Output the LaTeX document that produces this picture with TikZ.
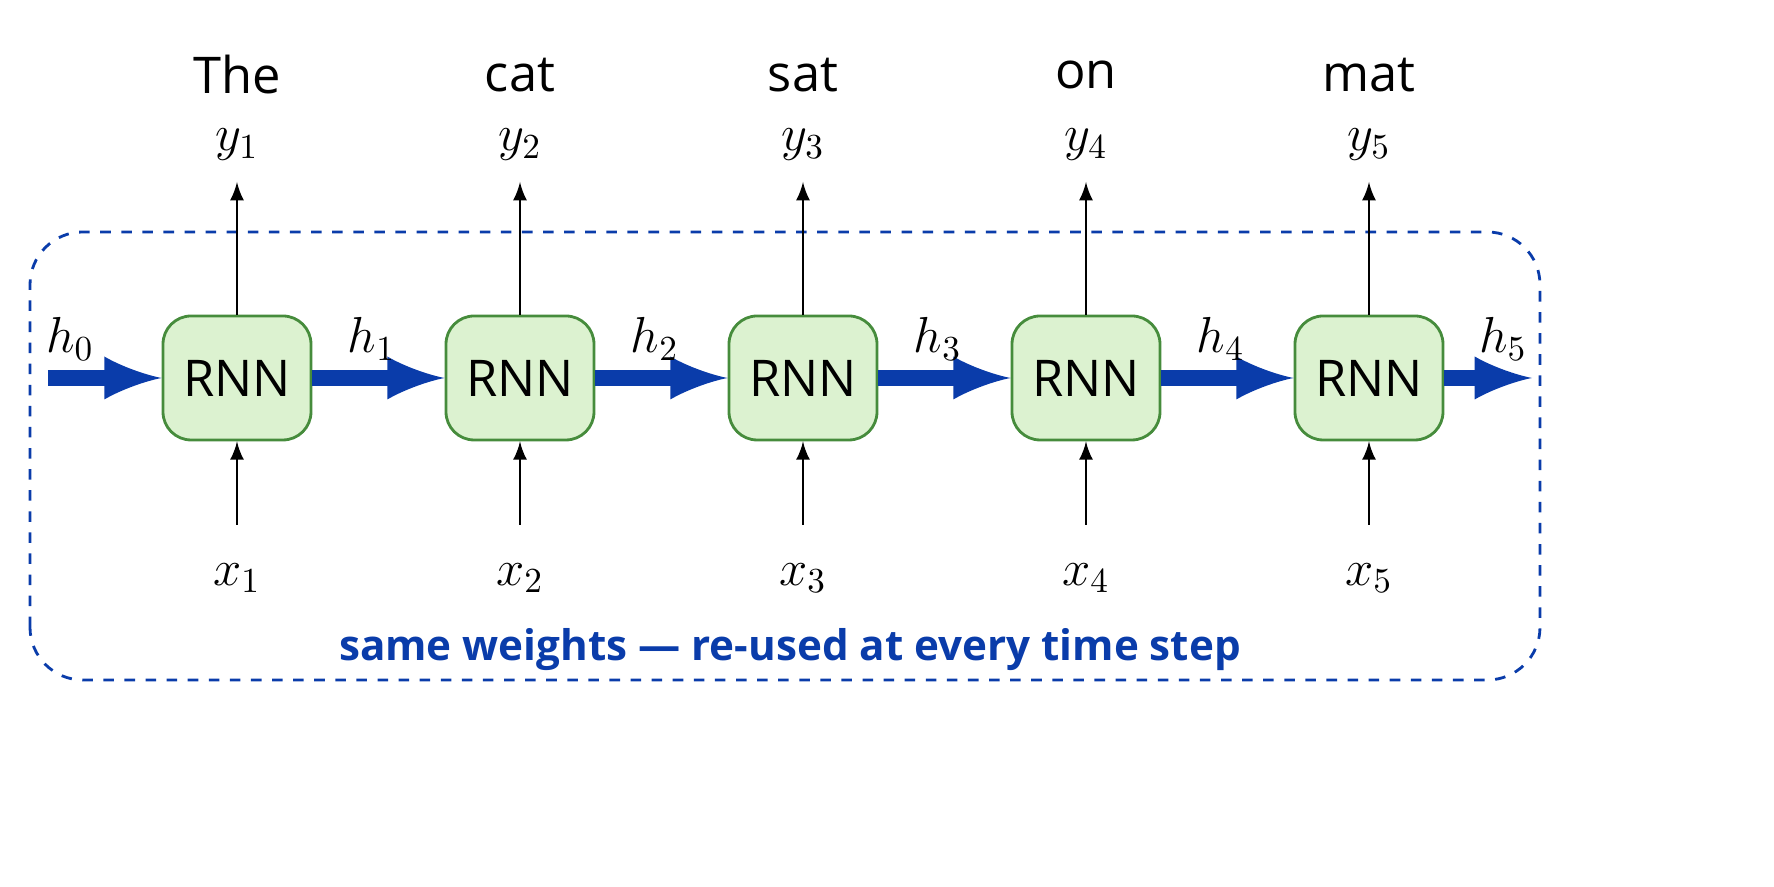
\documentclass[tikz,border=0pt]{standalone}
\usepackage{fontspec}
\setsansfont{Open Sans}
\usetikzlibrary{positioning,calc}
\definecolor{hblue}{RGB}{10,60,170}
\definecolor{cellfill}{RGB}{220,242,208}
\definecolor{celldraw}{RGB}{70,140,60}

\begin{document}
\begin{tikzpicture}[
        cell/.style={rectangle, rounded corners=8pt, draw=celldraw, fill=cellfill, thick, minimum width=1.48cm, minimum height=1.24cm, font=\sffamily\Large},
        word/.style={font=\sffamily\Large},
        lab/.style={font=\Large},
        hid/.style={->, >=latex, line width=4.5pt, hblue},
        io/.style={->, >=latex, thick, black}
      ]
        \useasboundingbox (0,0) rectangle (17.74, 8.87);
        \draw[hblue, dashed, thick, rounded corners=15pt] (0.30, 2.07) rectangle (15.40, 6.55);

        \coordinate (start) at (0.48, 5.09);
        \coordinate (end) at (15.32, 5.09);
        \node[lab] (h0) at (0.70, 5.48) {$h_0$};
        \node[lab] (h5) at (15.03, 5.48) {$h_5$};

        \foreach \i/\x/\w in {1/2.37/The, 2/5.20/cat, 3/8.03/sat, 4/10.86/on, 5/13.69/mat} {
          \node[cell] (rnn\i) at (\x, 5.09) {RNN};
          \node[lab] (y\i) at (\x, 7.42) {$y_\i$};
          \node[word] (w\i) at (\x, 8.12) {\w};
          \node[lab] (x\i) at (\x, 3.09) {$x_\i$};
          \coordinate (top\i) at (\x, 7.05);
          \coordinate (bot\i) at (\x, 3.62);
          \draw[io] (rnn\i.north) -- (top\i);
          \draw[io] (bot\i) -- (rnn\i.south);
        }

        \draw[hid] (start) -- (rnn1.west);
        \foreach \i/\j in {1/2, 2/3, 3/4, 4/5} {
          \draw[hid] (rnn\i.east) -- (rnn\j.west);
          \node[lab] (h\i) at ($(rnn\i.east)!0.45!(rnn\j.west)+(0,0.39)$) {$h_\i$};
        }
        \draw[hid] (rnn5.east) -- (end);

        \node[font=\sffamily\large\bfseries, text=hblue] (caption) at (7.90, 2.37) {same weights --- re-used at every time step};
      \end{tikzpicture}
\end{document}
